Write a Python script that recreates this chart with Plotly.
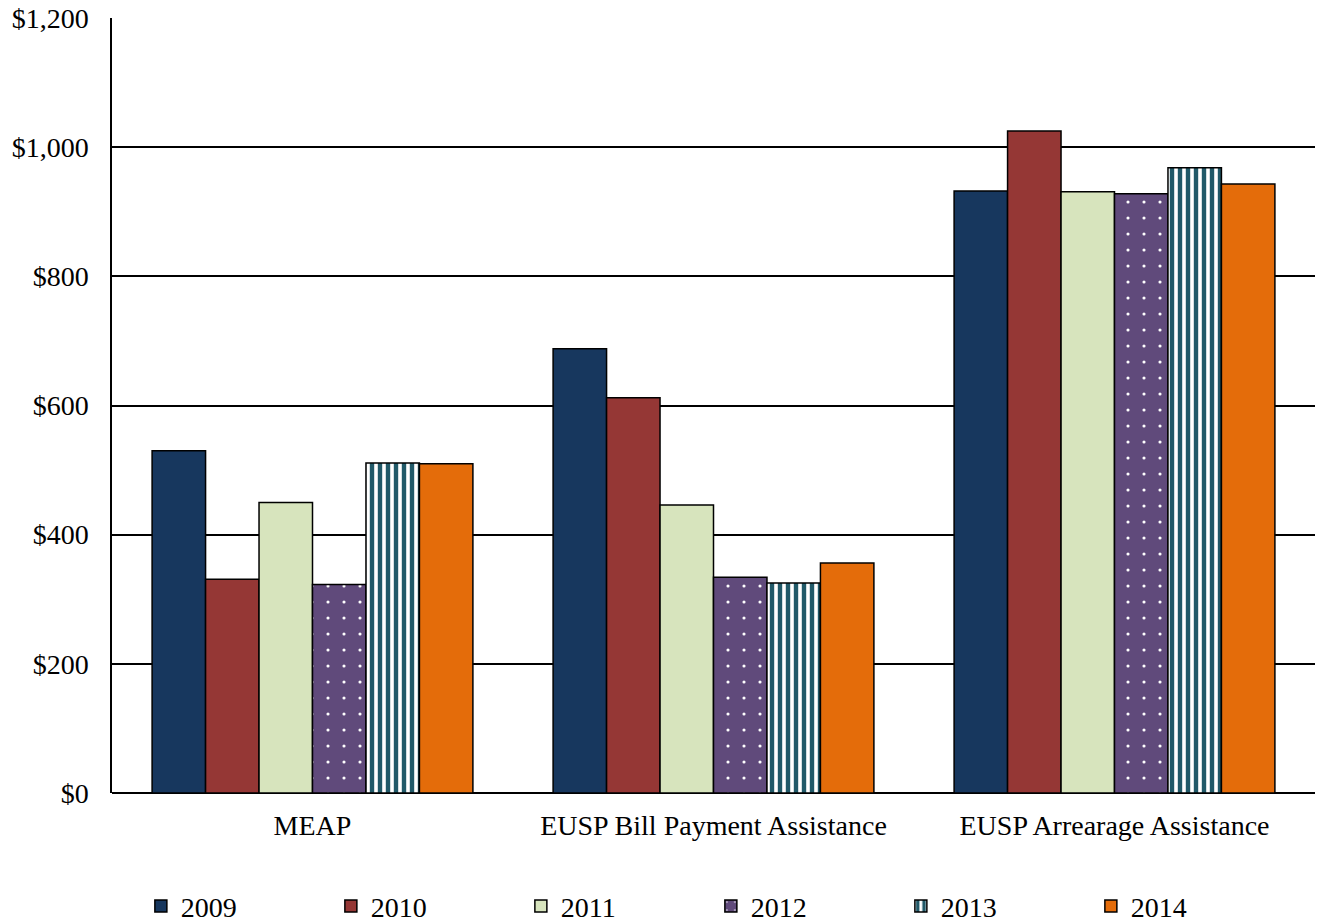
import plotly.graph_objects as go

categories = ["MEAP", "EUSP Bill Payment Assistance", "EUSP Arrearage Assistance"]
years = ["2009", "2010", "2011", "2012", "2013", "2014"]
values = {
    "2009": [530, 688, 932],
    "2010": [331, 612, 1025],
    "2011": [450, 446, 931],
    "2012": [323, 334, 928],
    "2013": [511, 325, 968],
    "2014": [510, 356, 943],
}
y_ticks = [0, 200, 400, 600, 800, 1000, 1200]
y_tick_text = ["$0", "$200", "$400", "$600", "$800", "$1,000", "$1,200"]

styles = {
    "2009": dict(color="#17375E"),
    "2010": dict(color="#953735"),
    "2011": dict(color="#D7E4BD"),
    "2012": dict(color="#604A7B",
                 pattern=dict(shape=".", fgcolor="white", bgcolor="#604A7B",
                              size=16, solidity=0.03, fillmode="replace")),
    "2013": dict(color="white",
                 pattern=dict(shape="|", fgcolor="#215968", bgcolor="white",
                              size=8, solidity=0.55, fillmode="replace")),
    "2014": dict(color="#E46C0A"),
}

fig = go.Figure()
for yr in years:
    fig.add_trace(go.Bar(
        name=yr, x=categories, y=values[yr],
        marker=dict(line=dict(color="black", width=1.5), **styles[yr]),
    ))

font = "Liberation Serif, Times New Roman, serif"
fig.update_layout(
    width=1317, height=924,
    margin=dict(l=112, r=2, t=18, b=131, autoexpand=False),
    paper_bgcolor="white", plot_bgcolor="white",
    barmode="group", bargap=0.2, bargroupgap=0,
    font=dict(family=font, size=28, color="black"),
    showlegend=True,
    legend=dict(orientation="h", x=0.024, xanchor="left", y=-0.114, yanchor="top",
                entrywidth=145, font=dict(size=28, family=font),
                traceorder="normal"),
    xaxis=dict(showline=False, ticks="", tickfont=dict(size=28),
               showgrid=False, automargin=False, ticklabelstandoff=13),
    yaxis=dict(range=[0, 1200], tickvals=y_ticks, ticktext=y_tick_text,
               showgrid=True, gridcolor="black", gridwidth=1.5,
               showline=True, linecolor="black", linewidth=1.5,
               zeroline=True, zerolinecolor="black", zerolinewidth=1.5,
               ticks="", tickfont=dict(size=28), automargin=False,
               ticklabelstandoff=16),
)

fig.write_html("out.html")
